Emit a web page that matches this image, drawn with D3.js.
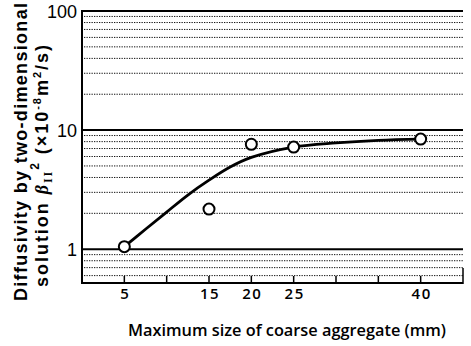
<!DOCTYPE html>
<html><head><meta charset="utf-8">
<script src="https://cdn.jsdelivr.net/npm/d3@7"></script>
<style>
html,body{margin:0;padding:0;background:#fff;}
svg{display:block;}
</style></head>
<body>
<svg id="chart" width="471" height="346"></svg>
<script>
// ---- data ----
const pointX = [5, 15, 20, 25, 40];
const pointY = [1.05, 2.17, 7.6, 7.2, 8.4];
const curveX = [5, 7.5, 10, 12.5, 15, 17.5, 20, 25, 30, 35, 40];
const curveY = [1.05, 1.47, 2.05, 2.85, 3.8, 4.9, 5.9, 7.2, 7.8, 8.2, 8.4];
const xTickLabels = [5, 15, 20, 25, 40];
const xTickMarks = [5, 10, 15, 20, 25, 30, 35, 40];
const yMajorTicks = [1, 10, 100];
const yMinorLines = [0.6, 0.7, 0.8, 0.9, 2, 3, 4, 5, 6, 7, 8, 9, 20, 30, 40, 50, 60, 70, 80, 90];
const xTitle = "Maximum size of coarse aggregate (mm)";

const svg = d3.select("#chart");
const L = 82, R = 463, T = 11, B = 283;
const x = d3.scaleLinear().domain([0, 45]).range([L, R]);
const y = d3.scaleLog().domain([0.52, 100]).range([B, T]);

// dotted minor lines
svg.append("g").selectAll("line").data(yMinorLines).join("line")
  .attr("x1", L + 2).attr("x2", R)
  .attr("y1", d => y(d)).attr("y2", d => y(d))
  .attr("stroke", "#111").attr("stroke-width", 1)
  .attr("stroke-dasharray", "1.3,1.2");

// major lines
svg.append("g").selectAll("line").data(yMajorTicks).join("line")
  .attr("x1", L).attr("x2", R)
  .attr("y1", d => y(d)).attr("y2", d => y(d))
  .attr("stroke", "#000").attr("stroke-width", 2);

// frame: left and bottom
svg.append("line").attr("x1", L).attr("x2", L).attr("y1", T - 1).attr("y2", B + 1)
  .attr("stroke", "#000").attr("stroke-width", 2);
svg.append("line").attr("x1", L).attr("x2", R).attr("y1", B).attr("y2", B)
  .attr("stroke", "#000").attr("stroke-width", 2);
svg.append("line").attr("x1", R).attr("x2", R).attr("y1", B - 15).attr("y2", B + 1)
  .attr("stroke", "#000").attr("stroke-width", 1.5);

// x tick marks (inward)
svg.append("g").selectAll("line").data(xTickMarks).join("line")
  .attr("x1", d => x(d)).attr("x2", d => x(d))
  .attr("y1", B).attr("y2", B - 7)
  .attr("stroke", "#000").attr("stroke-width", 1.5);

// x tick labels
svg.append("g").selectAll("text").data(xTickLabels).join("text")
  .attr("x", d => x(d) + 1).attr("y", 299)
  .attr("text-anchor", "middle")
  .attr("font-family", "'Open Sans', 'Noto Sans', sans-serif")
  .attr("font-size", 15).attr("font-weight", 600).attr("letter-spacing", 1.5).attr("fill", "#000")
  .text(d => d);

// y tick labels
svg.append("g").selectAll("text").data(yMajorTicks).join("text")
  .attr("x", 77).attr("y", d => y(d) + 7)
  .attr("text-anchor", "end")
  .attr("font-family", "'Liberation Sans', Arial, sans-serif")
  .attr("font-size", 18).attr("fill", "#000")
  .text(d => d);

// x title
svg.append("text").attr("x", 287).attr("y", 336)
  .attr("text-anchor", "middle")
  .attr("font-family", "'Open Sans', 'Noto Sans', sans-serif")
  .attr("font-size", 15.5).attr("font-weight", 600).attr("fill", "#000")
  .attr("textLength", 318).attr("lengthAdjust", "spacingAndGlyphs")
  .text(xTitle);

// y title line 1
svg.append("text")
  .attr("transform", "translate(27,152) rotate(-90)")
  .attr("text-anchor", "middle")
  .attr("font-family", "'Liberation Sans', Arial, sans-serif")
  .attr("font-size", 18).attr("font-weight", "bold").attr("fill", "#000")
  .attr("textLength", 298).attr("lengthAdjust", "spacing")
  .text("Diffusivity by two-dimensional");

// y title line 2
const t2 = svg.append("text")
  .attr("transform", "translate(48,166) rotate(-90)")
  .attr("text-anchor", "middle")
  .attr("font-family", "'Liberation Sans', Arial, sans-serif")
  .attr("font-size", 18).attr("font-weight", "bold").attr("fill", "#000")
  .attr("textLength", 242).attr("lengthAdjust", "spacing");
t2.append("tspan").text("solution ");
t2.append("tspan").attr("font-family", "'Liberation Serif', serif").attr("font-style", "italic").text("β");
t2.append("tspan").attr("font-family", "'Liberation Serif', serif").attr("font-size", 12).attr("dy", 4).text("II");
t2.append("tspan").attr("font-size", 12).attr("dy", -13).text("2");
t2.append("tspan").attr("dy", 9).text(" (×10");
t2.append("tspan").attr("font-size", 11).attr("dy", -7).text("-8");
t2.append("tspan").attr("dy", 7).text("m");
t2.append("tspan").attr("font-size", 11).attr("dy", -7).text("2");
t2.append("tspan").attr("dy", 7).text("/s)");

// curve
const curvePts = curveX.map((d, i) => [d, curveY[i]]);
svg.append("path")
  .attr("d", d3.line().x(d => x(d[0])).y(d => y(d[1])).curve(d3.curveCatmullRom.alpha(0.5))(curvePts))
  .attr("fill", "none").attr("stroke", "#000").attr("stroke-width", 2.8);

// points
const pts = pointX.map((d, i) => [d, pointY[i]]);
svg.append("g").selectAll("circle").data(pts).join("circle")
  .attr("cx", d => x(d[0])).attr("cy", d => y(d[1])).attr("r", 5.5)
  .attr("fill", "#fff").attr("stroke", "#000").attr("stroke-width", 2);
</script>
</body></html>
